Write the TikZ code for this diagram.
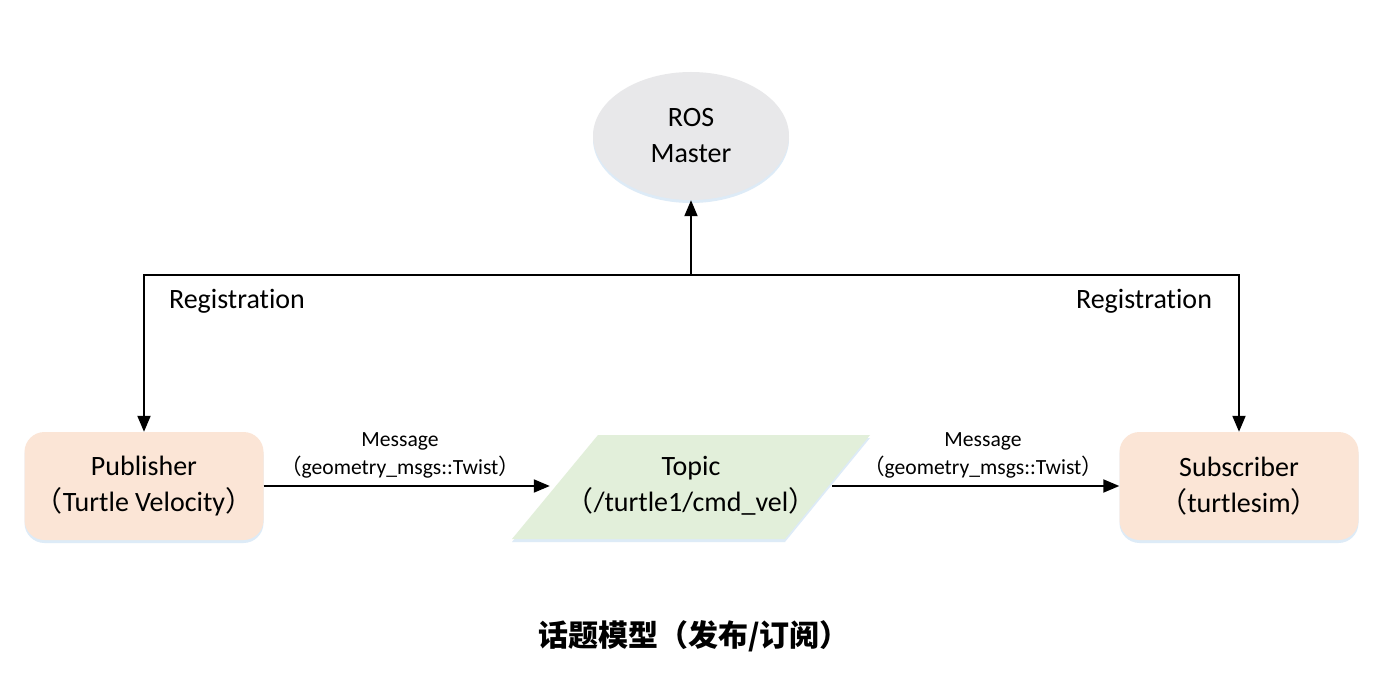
\documentclass[tikz,border=0pt]{standalone}
\usepackage{fontspec}
\setmainfont{Carlito}[Ligatures=NoCommon]
\newfontfamily\cjk{Noto Sans CJK SC}
\usetikzlibrary{arrows.meta,shapes.geometric,shadows}
\definecolor{peach}{HTML}{FBE5D6}
\definecolor{mint}{HTML}{E2EFDA}
\definecolor{mgray}{HTML}{E8E8EA}
\definecolor{shblue}{HTML}{DDEBF7}
\newcommand{\lp}{{\cjk （}}
\newcommand{\rp}{{\cjk ）}}
\begin{document}
\begin{tikzpicture}[x=1pt,y=-1pt,
  conn/.style={line width=2pt,-{Triangle[length=16pt,width=13pt]}},
  mainfont/.style={font=\fontsize{28}{36}\selectfont},
  smallfont/.style={font=\fontsize{21.6}{28}\selectfont},
  softshadow/.style={drop shadow={fill=shblue,opacity=1,shadow xshift=0pt,shadow yshift=-3pt}},
  nodebox/.style={rectangle,rounded corners=20pt,fill=peach,minimum width=239pt,minimum height=108pt,align=center,mainfont,softshadow},
  lbl/.style={inner sep=0pt,align=center}
]
\useasboundingbox (0,0) rectangle (1393,695);
\fill[white] (0,0) rectangle (1393,695);

% ROS master
\node[ellipse,fill=mgray,minimum width=196pt,minimum height=128pt,align=center,mainfont,softshadow]
  (master) at (691,136) {ROS\\Master};

% publisher / subscriber
\node[nodebox] (pub) at (144,486) {Publisher\\\lp Turtle Velocity\rp};
\node[nodebox] (sub) at (1239,486) {Subscriber\\\lp turtlesim\rp};

% topic parallelogram
\fill[mint,softshadow] (598,435) -- (870,435) -- (785,539) -- (512,539) -- cycle;
\node[minimum width=282pt,minimum height=100pt,align=center,mainfont,inner sep=0pt] (topic) at (691,486) {Topic\\\lp/turtle1/cmd\_vel\rp};

% registration lines
\coordinate (junc) at (691,275);
\draw[conn] (junc) -- (master.south);
\draw[conn] (junc) -| (pub.north);
\draw[conn] (junc) -| (sub.north);

\node[lbl,mainfont] (reg1) at (237,301) {Registration};
\node[lbl,mainfont] (reg2) at (1144,301) {Registration};

% message arrows
\draw[conn] (pub.east) -- (topic.west);
\draw[conn] (topic.east) -- (sub.west);
\node[lbl,smallfont] (msg1) at (400,455) {Message\\\lp geometry\_msgs::Twist\rp};
\node[lbl,smallfont] (msg2) at (983,455) {Message\\\lp geometry\_msgs::Twist\rp};

% caption
\node[lbl,font=\cjk\bfseries\fontsize{30}{32}\selectfont] (cap) at (694,636) {话题模型（发布/订阅）};
\end{tikzpicture}
\end{document}
